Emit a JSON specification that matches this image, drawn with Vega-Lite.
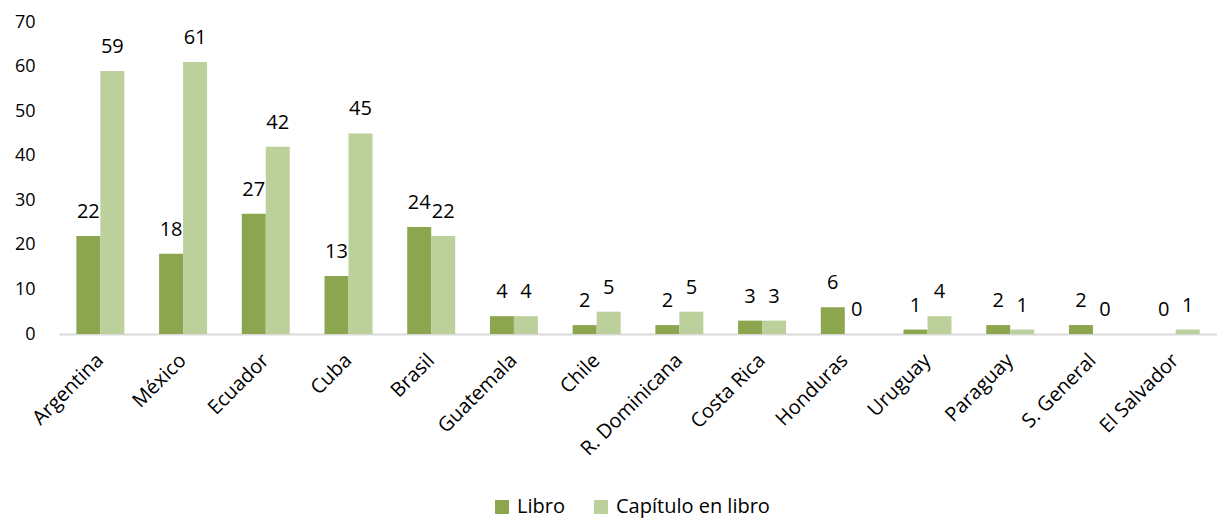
{
  "$schema": "https://vega.github.io/schema/vega-lite/v6.json",
  "width": 1158,
  "height": 312,
  "autosize": {"type": "none"},
  "padding": {"left": 59, "top": 22, "right": 0, "bottom": 186},
  "config": {"view": {"stroke": null}, "font": "Open Sans"},
  "data": {"values": [
    {"pais": "Argentina", "tipo": "Libro", "valor": 22},
    {"pais": "Argentina", "tipo": "Capítulo en libro", "valor": 59},
    {"pais": "México", "tipo": "Libro", "valor": 18},
    {"pais": "México", "tipo": "Capítulo en libro", "valor": 61},
    {"pais": "Ecuador", "tipo": "Libro", "valor": 27},
    {"pais": "Ecuador", "tipo": "Capítulo en libro", "valor": 42},
    {"pais": "Cuba", "tipo": "Libro", "valor": 13},
    {"pais": "Cuba", "tipo": "Capítulo en libro", "valor": 45},
    {"pais": "Brasil", "tipo": "Libro", "valor": 24},
    {"pais": "Brasil", "tipo": "Capítulo en libro", "valor": 22},
    {"pais": "Guatemala", "tipo": "Libro", "valor": 4},
    {"pais": "Guatemala", "tipo": "Capítulo en libro", "valor": 4},
    {"pais": "Chile", "tipo": "Libro", "valor": 2},
    {"pais": "Chile", "tipo": "Capítulo en libro", "valor": 5},
    {"pais": "R. Dominicana", "tipo": "Libro", "valor": 2},
    {"pais": "R. Dominicana", "tipo": "Capítulo en libro", "valor": 5},
    {"pais": "Costa Rica", "tipo": "Libro", "valor": 3},
    {"pais": "Costa Rica", "tipo": "Capítulo en libro", "valor": 3},
    {"pais": "Honduras", "tipo": "Libro", "valor": 6},
    {"pais": "Honduras", "tipo": "Capítulo en libro", "valor": 0},
    {"pais": "Uruguay", "tipo": "Libro", "valor": 1},
    {"pais": "Uruguay", "tipo": "Capítulo en libro", "valor": 4},
    {"pais": "Paraguay", "tipo": "Libro", "valor": 2},
    {"pais": "Paraguay", "tipo": "Capítulo en libro", "valor": 1},
    {"pais": "S. General", "tipo": "Libro", "valor": 2},
    {"pais": "S. General", "tipo": "Capítulo en libro", "valor": 0},
    {"pais": "El Salvador", "tipo": "Libro", "valor": 0},
    {"pais": "El Salvador", "tipo": "Capítulo en libro", "valor": 1}
  ]},
  "encoding": {
    "x": {
      "field": "pais", "type": "nominal", "sort": null,
      "scale": {"paddingInner": 0.42, "paddingOuter": 0.21},
      "axis": {
        "title": null, "labelAngle": -45, "labelFontSize": 20, "labelColor": "#000000",
        "labelPadding": 23, "labelBaseline": "middle", "ticks": false, "domainColor": "#D9D9D9", "domainWidth": 2,
        "labelFont": "Open Sans", "labelLimit": 300
      }
    },
    "xOffset": {"field": "tipo", "type": "nominal", "sort": ["Libro", "Capítulo en libro"], "scale": {"paddingInner": 0, "paddingOuter": 0}},
    "y": {
      "field": "valor", "type": "quantitative",
      "scale": {"domain": [0, 70], "nice": false},
      "axis": {
        "title": null, "values": [0, 10, 20, 30, 40, 50, 60, 70], "grid": false, "domain": false, "ticks": false,
        "labelFontSize": 18, "labelColor": "#000000", "labelPadding": 24, "labelFont": "Open Sans"
      }
    }
  },
  "layer": [
    {
      "mark": {"type": "bar"},
      "encoding": {
        "color": {
          "field": "tipo", "type": "nominal",
          "scale": {"domain": ["Libro", "Capítulo en libro"], "range": ["#8BA64F", "#BBD09A"]},
          "legend": {
            "title": null, "orient": "none", "direction": "horizontal",
            "legendX": 433, "legendY": 475,
            "symbolType": "square", "symbolSize": 196, "symbolStrokeWidth": 0,
            "labelFontSize": 20, "labelColor": "#000000", "labelFont": "Open Sans",
            "columnPadding": 26, "labelOffset": 5, "labelLimit": 400
          }
        }
      }
    },
    {
      "mark": {"type": "text", "baseline": "alphabetic", "dy": -18, "fontSize": 20, "color": "#000000", "font": "Open Sans"},
      "encoding": {"text": {"field": "valor", "type": "quantitative"}}
    }
  ]
}
